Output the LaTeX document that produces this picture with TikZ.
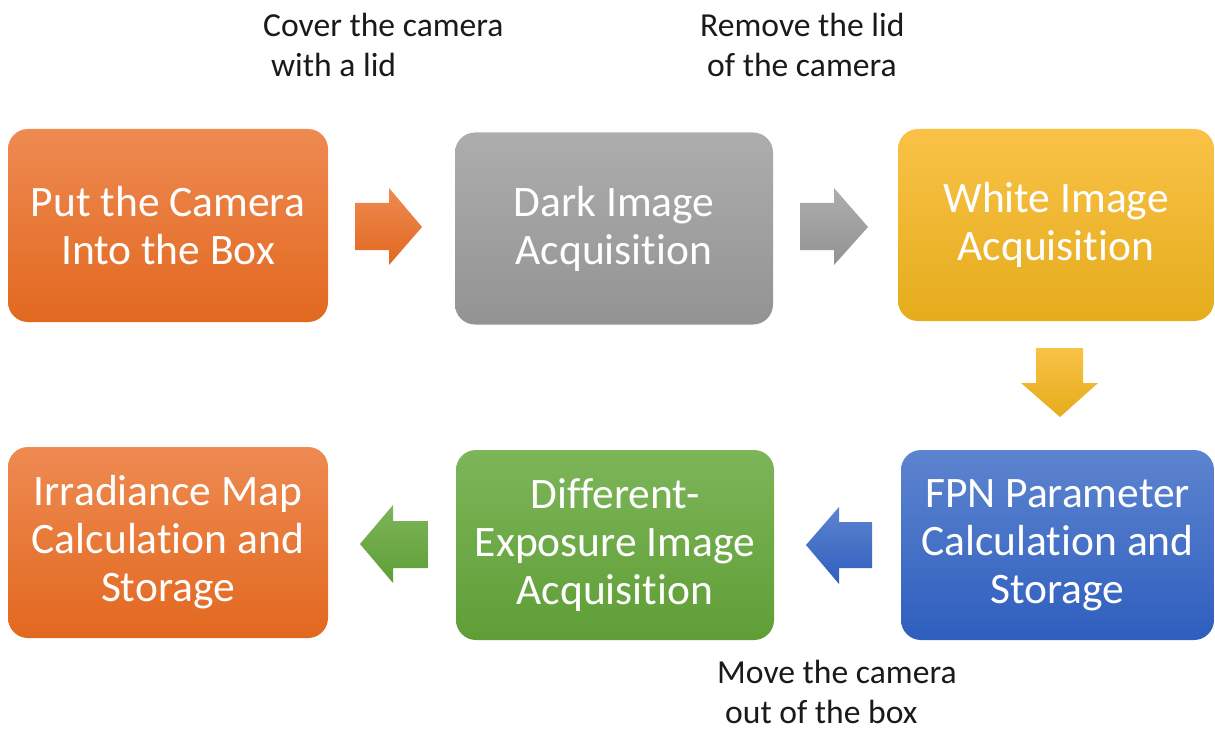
\documentclass[tikz,border=0pt]{standalone}
\usepackage{fontspec}
\setmainfont[Ligatures={NoCommon}]{Carlito}
\definecolor{orT}{HTML}{EE8A52}
\definecolor{orB}{HTML}{E2681F}
\definecolor{grT}{HTML}{ADADAD}
\definecolor{grB}{HTML}{939393}
\definecolor{yeT}{HTML}{F9C247}
\definecolor{yeB}{HTML}{E5AC1C}
\definecolor{blT}{HTML}{5D84CF}
\definecolor{blB}{HTML}{2E5EBE}
\definecolor{gnT}{HTML}{7DB559}
\definecolor{gnB}{HTML}{5F9E36}
\definecolor{lbl}{HTML}{1A1A1A}
\begin{document}
\begin{tikzpicture}[x=1pt,y=-1pt,
  stepbox/.style={rounded corners=20pt, inner sep=0pt, align=center,
    text=white, font=\fontsize{43.5}{48}\selectfont},
  note/.style={inner sep=0pt, align=left, text=lbl,
    font=\fontsize{33.6}{39.5}\selectfont, anchor=north west}]
\useasboundingbox (0,0) rectangle (1215,730);
\fill[white] (0,0) rectangle (1215,730);
% boxes
\node[stepbox, top color=orT, bottom color=orB, minimum width=320pt, minimum height=193pt] (b1) at (168,225.5) {Put the Camera\\Into the Box};
\node[stepbox, top color=grT, bottom color=grB, minimum width=318pt, minimum height=192pt] (b2) at (614,228.5) {Dark Image\\Acquisition};
\node[stepbox, top color=yeT, bottom color=yeB, minimum width=316pt, minimum height=192pt] (b3) at (1056,225) {White Image\\Acquisition};
\node[stepbox, top color=blT, bottom color=blB, minimum width=313pt, minimum height=190pt] (b4) at (1057.5,545) {FPN Parameter\\Calculation and\\Storage};
\node[stepbox, top color=gnT, bottom color=gnB, minimum width=318pt, minimum height=190pt] (b5) at (615,545) {Different-\\Exposure Image\\Acquisition};
\node[stepbox, top color=orT, bottom color=orB, minimum width=320pt, minimum height=191pt] (b6) at (168,542.5) {Irradiance Map\\Calculation and\\Storage};
% block arrows
\shade[top color=orT, bottom color=orB] (355,203) -- (389,203) -- (389,188) -- (422,227) -- (389,265) -- (389,250) -- (355,250) -- cycle;
\shade[top color=grT, bottom color=grB] (800,203) -- (834,203) -- (834,188) -- (868,227) -- (834,265) -- (834,250) -- (800,250) -- cycle;
\shade[top color=yeT, bottom color=yeB] (1036,348) -- (1083,348) -- (1083,383) -- (1098,383) -- (1060,417) -- (1021,383) -- (1036,383) -- cycle;
\shade[top color=blT, bottom color=blB] (872,522) -- (839,522) -- (839,507) -- (806,545) -- (839,584) -- (839,568) -- (872,568) -- cycle;
\shade[top color=gnT, bottom color=gnB] (428,521) -- (393,521) -- (393,505) -- (360,544) -- (393,583) -- (393,568) -- (428,568) -- cycle;
% labels
\node[note] (l1) at (263,13) {Cover the camera\\\hspace*{8pt}with a lid};
\node[note] (l2) at (700,13) {Remove the lid\\\hspace*{7pt}of the camera};
\node[note] (l3) at (717,660) {Move the camera\\\hspace*{8pt}out of the box};
\end{tikzpicture}
\end{document}
